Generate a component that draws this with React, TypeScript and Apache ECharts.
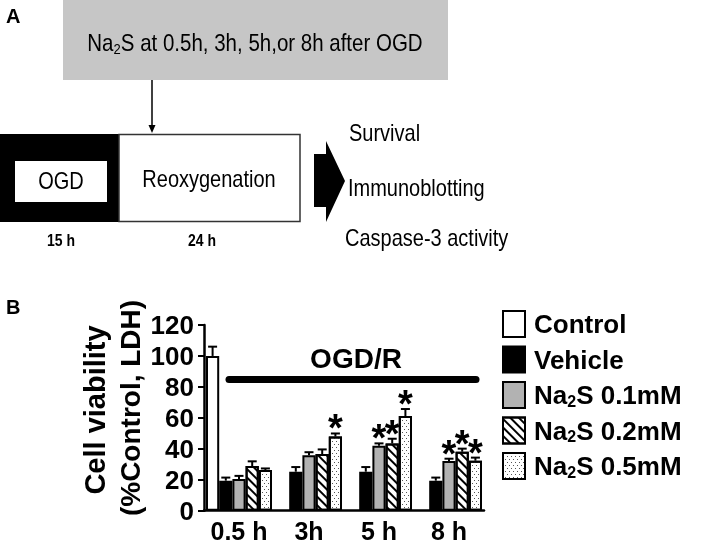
import React, { useEffect, useRef } from "react";
import * as echarts from "echarts";

const categories = ["0.5 h", "3h", "5 h", "8 h"];
const seriesNames = ["Control", "Vehicle", "Na2S 0.1mM", "Na2S 0.2mM", "Na2S 0.5mM"];
const controlValues = [100, null, null, null];
const vehicleValues = [19.4, 25.2, 25.2, 19.4];
const na01Values = [20.5, 35.8, 42, 32.1];
const na02Values = [28.9, 36.6, 43.5, 38.1];
const na05Values = [26.3, 47.9, 61.2, 32.3];
const controlErr = [6, null, null, null];
const vehicleErr = [2, 3, 3, 2];
const na01Err = [2, 2, 1.5, 1.5];
const na02Err = [3, 3, 3, 2];
const na05Err = [1, 2, 4.5, 2];
const na01Sig = [0, 0, 1, 1];
const na02Sig = [0, 0, 1, 1];
const na05Sig = [0, 1, 1, 1];

const FONT = "'Liberation Sans', Arial, sans-serif";
const CAT_GAP = 0.057;

export default function App() {
  const ref = useRef<HTMLDivElement>(null);
  useEffect(() => {
    if (!ref.current) return;
    const chart = echarts.init(ref.current, null, { renderer: "svg" });

    const allValues = [controlValues, vehicleValues, na01Values, na02Values, na05Values];
    const allErr = [controlErr, vehicleErr, na01Err, na02Err, na05Err];
    const allSig = [[0, 0, 0, 0], [0, 0, 0, 0], na01Sig, na02Sig, na05Sig];
    const errData: any[] = [];
    allValues.forEach((vals, s) => {
      vals.forEach((v, c) => {
        if (v != null) errData.push([c, s, v, allErr[s][c] ?? 0, allSig[s][c]]);
      });
    });

    const fills = ["#ffffff", "#000000", "#b2b2b2", "#ffffff", "#ffffff"];
    const decals: any[] = [
      null,
      null,
      null,
      { symbol: "rect", symbolSize: 1, dashArrayX: [1, 0], dashArrayY: [2, 4], rotation: Math.PI / 4, color: "#000" },
      { symbol: "rect", symbolSize: 1, dashArrayX: [[1, 3], [0, 2, 1, 1]], dashArrayY: [1, 2], color: "#555" },
    ];

    const barSeries = allValues.map((vals, s) => ({
      type: "bar",
      name: seriesNames[s],
      data: vals.map((v) => (v == null ? "-" : v)),
      barGap: "0%",
      barCategoryGap: CAT_GAP * 100 + "%",
      itemStyle: {
        color: fills[s],
        borderColor: "#000",
        borderWidth: 2,
        decal: decals[s] || undefined,
      },
    }));

    const subRich = {
      sub: { fontSize: 16, fontWeight: "bold", fontFamily: FONT, color: "#000", verticalAlign: "bottom", padding: [12, 0, 0, 0] },
    };

    const option: any = {
      animation: false,
      aria: { enabled: false },
      grid: { left: 204, top: 325, width: 280, height: 185.7, containLabel: false, outerBoundsMode: "none" },
      xAxis: {
        type: "category",
        data: categories,
        axisLine: { lineStyle: { color: "#000", width: 2.5 } },
        axisTick: { alignWithLabel: true, length: 6, lineStyle: { color: "#000", width: 2 } },
        axisLabel: { interval: 0, hideOverlap: false, color: "#000", fontSize: 25, fontWeight: "bold", fontFamily: FONT, margin: 8 },
      },
      yAxis: {
        type: "value",
        min: 0,
        max: 120,
        interval: 20,
        splitLine: { show: false },
        axisLine: { show: true, lineStyle: { color: "#000", width: 2.5 } },
        axisTick: { show: true, length: 6, lineStyle: { color: "#000", width: 2 } },
        axisLabel: { color: "#000", fontSize: 26, fontWeight: "bold", fontFamily: FONT, margin: 10 },
      },
      legend: {
        data: seriesNames,
        orient: "vertical",
        left: 497,
        top: 305,
        icon: "rect",
        itemWidth: 22,
        itemHeight: 26,
        itemGap: 7.5,
        formatter: (n: string) => (n.startsWith("Na2S") ? "Na{sub|2}S" + n.slice(4) : n),
        textStyle: { color: "#000", fontSize: 26, fontWeight: "bold", fontFamily: FONT, rich: subRich, padding: [0, 0, 0, 4] },
      },
      series: [
        ...barSeries,
        {
          type: "custom",
          name: "err",
          data: errData,
          encode: { x: 0, y: 2 },
          z: 5,
          renderItem: (params: any, api: any) => {
            const c = api.value(0);
            const s = api.value(1);
            const v = api.value(2);
            const e = api.value(3);
            const sig = api.value(4);
            const band = api.size([1, 0])[0];
            const inner = band * (1 - CAT_GAP);
            const bw = inner / 5;
            const cx = api.coord([c, 0])[0] - inner / 2 + bw * (s + 0.5);
            const yTop = api.coord([c, v])[1];
            const yErr = api.coord([c, v + e])[1];
            const children: any[] = [
              { type: "line", shape: { x1: cx, y1: yTop, x2: cx, y2: yErr }, style: { stroke: "#000", lineWidth: 2 } },
              { type: "line", shape: { x1: cx - 4.5, y1: yErr, x2: cx + 4.5, y2: yErr }, style: { stroke: "#000", lineWidth: 2 } },
            ];
            if (sig) {
              children.push({
                type: "text",
                x: cx,
                y: yErr + 14,
                style: { text: "*", fontSize: 38, fontWeight: "bold", fontFamily: FONT, fill: "#000", align: "center", verticalAlign: "bottom" },
              });
            }
            return { type: "group", children };
          },
        },
      ],
      graphic: [
        // Panel A
        { type: "text", x: 6, y: 6, style: { text: "A", fontSize: 20, fontWeight: "bold", fontFamily: FONT, fill: "#000" } },
        { type: "rect", shape: { x: 63, y: 0, width: 385, height: 80 }, style: { fill: "#c6c6c6" } },
        {
          type: "text",
          x: 255,
          y: 43,
          scaleY: 1.18,
          style: {
            text: "{n|Na}{s|2}{n|S at 0.5h, 3h, 5h,or 8h after OGD}",
            align: "center",
            verticalAlign: "middle",
            rich: {
              n: { fontSize: 20.5, fontFamily: FONT, fill: "#000" },
              s: { fontSize: 13, fontFamily: FONT, fill: "#000", verticalAlign: "bottom", padding: [9, 0, 0, 0] },
            },
          },
        },
        { type: "line", shape: { x1: 152, y1: 80, x2: 152, y2: 128 }, style: { stroke: "#000", lineWidth: 1.5 } },
        { type: "polygon", shape: { points: [[148.5, 125], [155.5, 125], [152, 133]] }, style: { fill: "#000" } },
        { type: "rect", shape: { x: 0, y: 134, width: 119, height: 88 }, style: { fill: "#000" } },
        { type: "rect", shape: { x: 15, y: 161, width: 92, height: 41 }, style: { fill: "#fff" } },
        { type: "rect", shape: { x: 119, y: 134.5, width: 181, height: 87 }, style: { fill: "#fff", stroke: "#333", lineWidth: 1.5 } },
        { type: "text", x: 61, y: 181, scaleY: 1.2, style: { text: "OGD", fontSize: 20, fontFamily: FONT, fill: "#000", align: "center", verticalAlign: "middle" } },
        { type: "text", x: 209, y: 179, scaleY: 1.2, style: { text: "Reoxygenation", fontSize: 20, fontFamily: FONT, fill: "#000", align: "center", verticalAlign: "middle" } },
        { type: "text", x: 61, y: 240, scaleY: 1.2, style: { text: "15 h", fontSize: 14, fontWeight: "bold", fontFamily: FONT, fill: "#000", align: "center", verticalAlign: "middle" } },
        { type: "text", x: 202, y: 240, scaleY: 1.2, style: { text: "24 h", fontSize: 14, fontWeight: "bold", fontFamily: FONT, fill: "#000", align: "center", verticalAlign: "middle" } },
        {
          type: "polygon",
          shape: { points: [[314, 154], [326, 154], [326, 141], [345, 181], [326, 222], [326, 207], [314, 207]] },
          style: { fill: "#000" },
        },
        { type: "text", x: 349, y: 133, scaleY: 1.2, style: { text: "Survival", fontSize: 20, fontFamily: FONT, fill: "#000", verticalAlign: "middle" } },
        { type: "text", x: 348, y: 188, scaleY: 1.2, style: { text: "Immunoblotting", fontSize: 20, fontFamily: FONT, fill: "#000", verticalAlign: "middle" } },
        { type: "text", x: 345, y: 238, scaleY: 1.2, style: { text: "Caspase-3 activity", fontSize: 20, fontFamily: FONT, fill: "#000", verticalAlign: "middle" } },
        // Panel B
        { type: "text", x: 6, y: 297, style: { text: "B", fontSize: 20, fontWeight: "bold", fontFamily: FONT, fill: "#000" } },
        { type: "text", x: 95, y: 410, rotation: Math.PI / 2, style: { text: "Cell viability", fontSize: 29, fontWeight: "bold", fontFamily: FONT, fill: "#000", align: "center", verticalAlign: "middle" } },
        { type: "text", x: 130, y: 408, rotation: Math.PI / 2, style: { text: "(%Control, LDH)", fontSize: 28, fontWeight: "bold", fontFamily: FONT, fill: "#000", align: "center", verticalAlign: "middle" } },
        { type: "text", x: 356, y: 358, style: { text: "OGD/R", fontSize: 28, fontWeight: "bold", fontFamily: FONT, fill: "#000", align: "center", verticalAlign: "middle" } },
        { type: "line", shape: { x1: 229, y1: 379.5, x2: 476, y2: 379.5 }, style: { stroke: "#000", lineWidth: 7, lineCap: "round" } },
      ],
    };
    chart.setOption(option);
    return () => chart.dispose();
  }, []);
  return <div ref={ref} style={{ position: "fixed", left: 0, top: 0, width: 709, height: 544 }} />;
}
